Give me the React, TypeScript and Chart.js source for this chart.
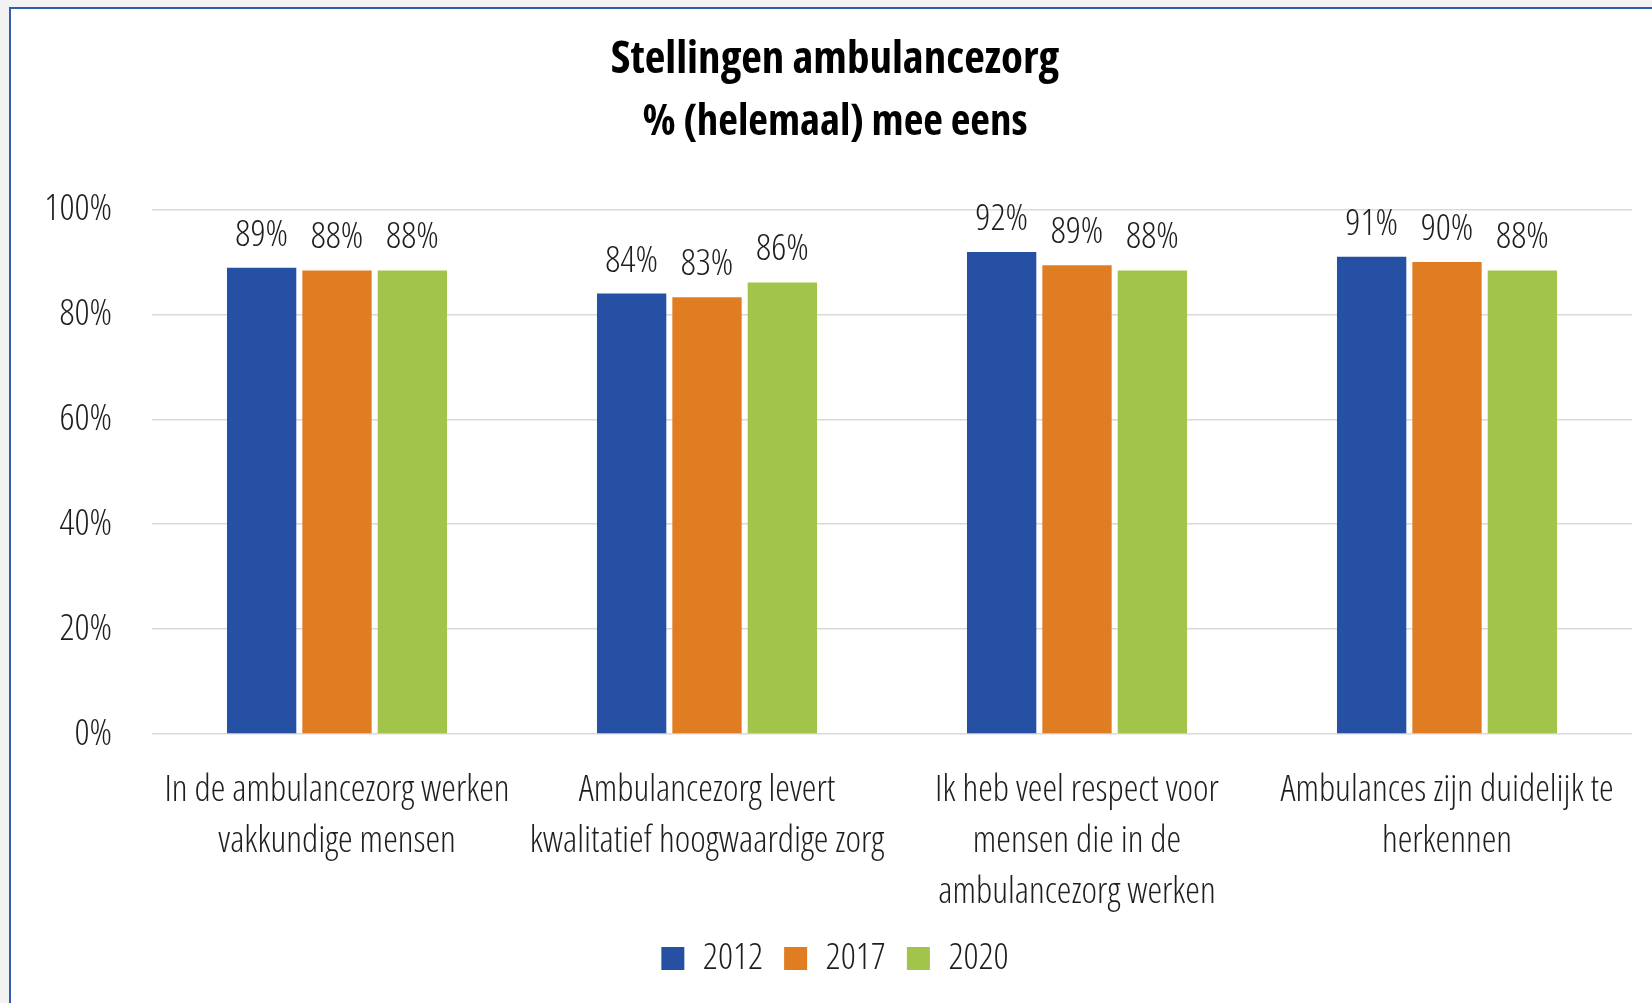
import React, { useEffect, useRef } from 'react';
import { Chart, registerables } from 'chart.js';

Chart.register(...registerables);

const categories: string[][] = [
  ['In de ambulancezorg werken', 'vakkundige mensen'],
  ['Ambulancezorg levert', 'kwalitatief hoogwaardige zorg'],
  ['Ik heb veel respect voor', 'mensen die in de', 'ambulancezorg werken'],
  ['Ambulances zijn duidelijk te', 'herkennen'],
];
const seriesLabels = ['2012', '2017', '2020'];
const values2012 = [88.9, 84.0, 91.9, 91.0];
const values2017 = [88.4, 83.3, 89.4, 90.0];
const values2020 = [88.4, 86.1, 88.4, 88.4];
const yTickValues = [0, 20, 40, 60, 80, 100];
const titleText = 'Stellingen ambulancezorg';
const subtitleText = '% (helemaal) mee eens';

const seriesColors = ['#2550A3', '#E07C22', '#A2C44B'];
const TEXT = '#1e1e1e';
const FAMILY = "'Open Sans', 'DejaVu Sans', sans-serif";
const LIGHT = '300 condensed';
const BOLD = '700 condensed';
const FS = 37;

export default function App() {
  const ref = useRef<HTMLCanvasElement | null>(null);

  useEffect(() => {
    if (!ref.current) return;
    const labelFont = { family: FAMILY, weight: LIGHT as any, size: FS };

    const valueLabels = {
      id: 'valueLabels',
      afterDatasetsDraw(chart: any) {
        const ctx = chart.ctx;
        ctx.save();
        ctx.font = `${LIGHT} ${FS}px ${FAMILY}`;
        ctx.fillStyle = TEXT;
        ctx.textAlign = 'center';
        ctx.textBaseline = 'alphabetic';
        chart.data.datasets.forEach((ds: any, i: number) => {
          const meta = chart.getDatasetMeta(i);
          meta.data.forEach((bar: any, j: number) => {
            ctx.fillText(Math.round(ds.data[j]) + '%', bar.x, bar.y - 22);
          });
        });
        ctx.restore();
      },
    };

    const datasets = [values2012, values2017, values2020].map((vals, i) => ({
      label: seriesLabels[i],
      data: vals,
      backgroundColor: seriesColors[i],
      borderWidth: 0,
      categoryPercentage: 0.611,
      barPercentage: 0.92,
    }));

    const chart = new Chart(ref.current, {
      type: 'bar',
      data: { labels: categories, datasets },
      plugins: [valueLabels],
      options: {
        animation: false,
        responsive: false,
        devicePixelRatio: 1,
        layout: { padding: { left: 26, right: 20, top: 0, bottom: 16 } },
        plugins: {
          tooltip: { enabled: false },
          title: {
            display: true,
            text: titleText,
            color: '#000',
            font: { family: FAMILY, weight: BOLD as any, size: 45, lineHeight: 1.2 },
            padding: { top: 23, bottom: 0 },
          },
          subtitle: {
            display: true,
            text: subtitleText,
            color: '#000',
            font: { family: FAMILY, weight: BOLD as any, size: 43, lineHeight: 1.2 },
            padding: { top: 10, bottom: 61 },
          },
          legend: {
            display: true,
            position: 'bottom',
            labels: {
              color: TEXT,
              font: labelFont,
              boxWidth: 23,
              boxHeight: 23,
              padding: 21,
            },
          },
        },
        scales: {
          x: {
            grid: { display: false },
            border: { display: false },
            ticks: {
              color: TEXT,
              font: { ...labelFont, lineHeight: 1.38 },
              padding: 23,
              maxRotation: 0,
              autoSkip: false,
            },
            afterFit: (s: any) => { s.height = 185; },
          },
          y: {
            min: 0,
            max: 100,
            afterBuildTicks: (s: any) => { s.ticks = yTickValues.map((v) => ({ value: v })); },
            ticks: {
              color: TEXT,
              font: labelFont,
              padding: 40,
              callback: (v: any) => v + '%',
            },
            grid: { color: '#d9d9d9', lineWidth: 1.5, drawTicks: false },
            border: { display: false },
            afterFit: (s: any) => { s.width = 114; },
          },
        },
      },
    });
    return () => chart.destroy();
  }, []);

  return (
    <div style={{ position: 'fixed', left: 0, top: 0, width: 1652, height: 1003, background: '#f2f2f2', overflow: 'hidden' }}>
      <div style={{ position: 'absolute', left: 9, top: 7, width: 1700, height: 1100, background: '#fff', borderTop: '2px solid #2f5bb0', borderLeft: '2px solid #2f5bb0' }} />
      <canvas ref={ref} width={1640} height={993} style={{ position: 'absolute', left: 12, top: 10 }} />
    </div>
  );
}
